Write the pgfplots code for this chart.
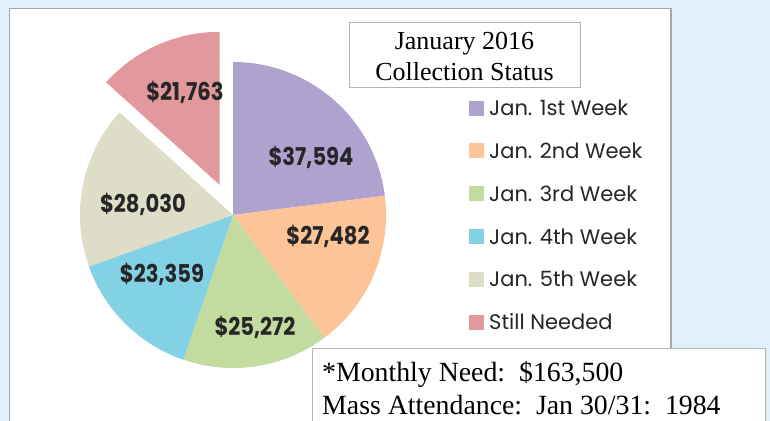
\documentclass[border=0pt]{standalone}
\usepackage{pgfplots}
\pgfplotsset{compat=1.18}
\usepackage{pgfplotstable}
\usepackage{fontspec}
\setmainfont{Liberation Serif}
\newfontfamily\legfam{Poppins}
\newfontfamily\lblfam[FakeStretch=0.86]{Poppins}

\definecolor{bgblue}{HTML}{E1F1F9}
\definecolor{cpurple}{HTML}{B0A2CF}
\definecolor{corange}{HTML}{FCC497}
\definecolor{cgreen}{HTML}{C4DBA0}
\definecolor{cblue}{HTML}{82D1E5}
\definecolor{cbeige}{HTML}{DEDDC8}
\definecolor{cpink}{HTML}{E1999D}
\definecolor{frame}{HTML}{A3AAAE}
\definecolor{boxgray}{HTML}{B4B4B4}

% value, colour, explode offset, label position (px), legend name
\pgfplotstableread[col sep=comma]{
value,col,ex,lx,ly,name
37594,cpurple,0,311,157,Jan. 1st Week
27482,corange,0,328,236,Jan. 2nd Week
25272,cgreen,0,255,327,Jan. 3rd Week
23359,cblue,0,162,274,Jan. 4th Week
28030,cbeige,0,143,204,Jan. 5th Week
21763,cpink,33,185,92,Still Needed
}\piedata

\begin{document}
\begin{tikzpicture}
\useasboundingbox (0,0) rectangle (770pt,420pt);
\clip (0,0) rectangle (770pt,420pt);
\begin{axis}[scale only axis, width=770pt, height=420pt,
  xmin=0, xmax=770, ymin=0, ymax=420, y dir=reverse,
  hide axis, clip=false, anchor=south west, at={(0,0)},
  /pgf/number format/assume math mode=true]
  % backgrounds
  \fill[bgblue] (axis cs:-5,-5) rectangle (axis cs:775,425);
  \draw[frame, line width=1.6pt, fill=white] (axis cs:9.5,8.5) rectangle (axis cs:671,440);
  % total
  \pgfplotstablegetrowsof{\piedata}
  \pgfmathtruncatemacro\N{\pgfplotsretval-1}
  \def\tot{0}
  \pgfplotsforeachungrouped \i in {0,...,\N}{%
    \pgfplotstablegetelem{\i}{value}\of\piedata
    \edef\tot{\fpeval{\tot+\pgfplotsretval}}%
  }
  \def\cum{0}
  \pgfplotsforeachungrouped \i in {0,...,\N}{%
    \pgfplotstablegetelem{\i}{value}\of\piedata \let\v\pgfplotsretval
    \pgfplotstablegetelem{\i}{col}\of\piedata \let\c\pgfplotsretval
    \pgfplotstablegetelem{\i}{ex}\of\piedata \let\e\pgfplotsretval
    \edef\a{\fpeval{90-\cum/\tot*360}}%
    \edef\b{\fpeval{90-(\cum+\v)/\tot*360}}%
    \edef\m{\fpeval{(\a+\b)/2}}%
    \edef\temp{\noexpand\fill[\c] ([shift={(\m:\e pt)}]axis cs:233,215) -- ++(\a:153pt)
      arc[start angle=\a, end angle=\b, radius=153pt] -- cycle;}%
    \temp
    \edef\cum{\fpeval{\cum+\v}}%
  }
  % data labels
  \pgfplotsforeachungrouped \i in {0,...,\N}{%
    \pgfplotstablegetelem{\i}{value}\of\piedata \let\v\pgfplotsretval
    \pgfplotstablegetelem{\i}{lx}\of\piedata \let\lx\pgfplotsretval
    \pgfplotstablegetelem{\i}{ly}\of\piedata \let\ly\pgfplotsretval
    \edef\temp{\noexpand\node[inner sep=0pt, text=black!85,
      font=\noexpand\lblfam\noexpand\bfseries\noexpand\fontsize{24.5}{24.5}\noexpand\selectfont]
      at (axis cs:\lx,\ly) {\noexpand\$\noexpand\pgfmathprintnumber[fixed, precision=0, 1000 sep={,}, assume math mode=true]{\v}};}%
    \temp
  }
  % legend
  \pgfplotsforeachungrouped \i in {0,...,\N}{%
    \pgfplotstablegetelem{\i}{col}\of\piedata \let\c\pgfplotsretval
    \pgfplotstablegetelem{\i}{name}\of\piedata \let\nm\pgfplotsretval
    \edef\yy{\fpeval{108+\i*42.8}}%
    \edef\temp{\noexpand\fill[\c] (axis cs:469,\fpeval{\yy-7.5}) rectangle (axis cs:484,\fpeval{\yy+7.5});
      \noexpand\node[anchor=west, inner sep=0pt, text=black!85,
      font=\noexpand\legfam\noexpand\fontsize{21}{21}\noexpand\selectfont]
      at (axis cs:489,\yy) {\nm};}%
    \temp
  }
  % title box
  \draw[boxgray, line width=0.9pt, fill=white] (axis cs:349,22) rectangle (axis cs:580,87);
  \node[anchor=base, inner sep=0pt, font=\fontsize{26}{26}\selectfont] at (axis cs:464.5,49) {January 2016};
  \node[anchor=base, inner sep=0pt, font=\fontsize{26}{26}\selectfont] at (axis cs:464.5,80) {Collection Status};
  % note box
  \draw[boxgray, line width=0.9pt, fill=white] (axis cs:312,348) rectangle (axis cs:765,440);
  \node[anchor=base west, inner sep=0pt, font=\fontsize{27.8}{27.8}\selectfont] at (axis cs:322,381) {*Monthly Need:\ \ \$163,500};
  \node[anchor=base west, inner sep=0pt, font=\fontsize{27.8}{27.8}\selectfont] at (axis cs:322,414) {Mass Attendance:\ \ Jan 30/31:\ \ 1984};
\end{axis}
\end{tikzpicture}
\end{document}
